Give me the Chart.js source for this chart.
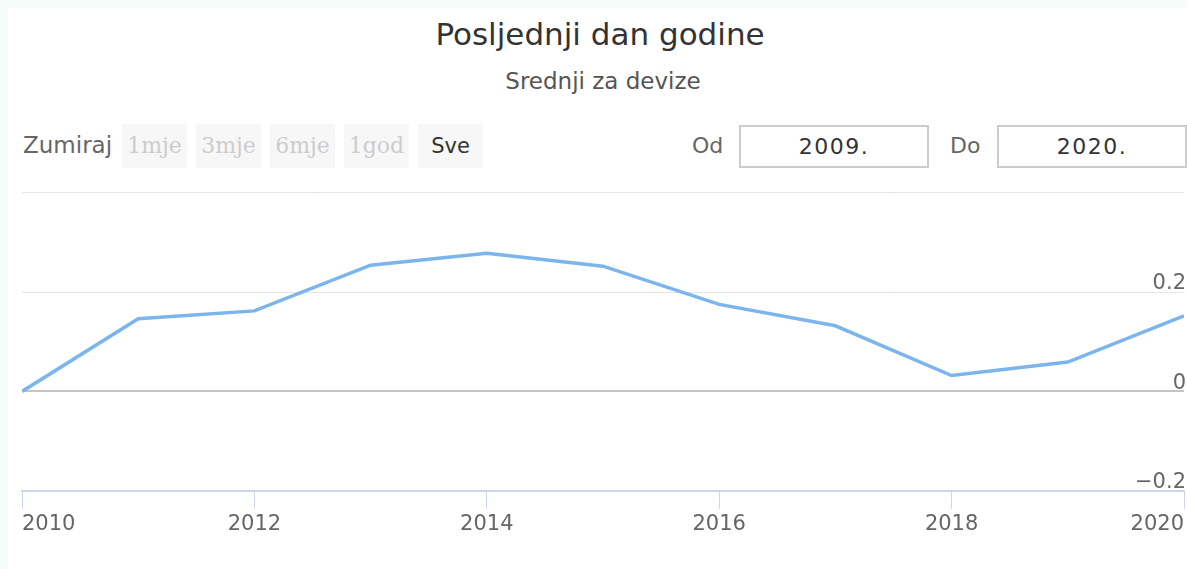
<!DOCTYPE html>
<html>
<head>
<meta charset="utf-8">
<script src="https://cdn.jsdelivr.net/npm/chart.js@4.4.0/dist/chart.umd.min.js"></script>
<style>
  body { margin: 0; background: #f6fcfa; font-family: "DejaVu Sans", sans-serif; }
  #panel { position: absolute; left: 8px; top: 8px; width: 1179px; height: 561px; background: #fff; }
  .abs { position: absolute; white-space: nowrap; }
  #title { left: 0; width: 1200px; top: 16px; text-align: center; font-size: 31px; color: #333; }
  #subtitle { left: 0; width: 1206px; top: 68px; text-align: center; font-size: 23px; color: #555; }
  #zoomLbl { left: 23px; top: 132px; font-size: 23px; color: #666; }
  .btn { top: 124px; height: 44px; width: 65px; background: #f7f7f7; line-height: 44px; text-align: center; }
  .btn.off { color: #ccc; font-family: "DejaVu Serif", serif; font-size: 22px; }
  .btn.on { color: #333; font-size: 21px; }
  .lbl { top: 133px; font-size: 22px; color: #666; }
  .inp { top: 125px; height: 39px; width: 186px; border: 2px solid #ccc; text-align: center; line-height: 39px; font-size: 22px; color: #333; letter-spacing: 1.5px; }
  #chart { position: absolute; left: 0; top: 178px; }
</style>
</head>
<body>
<div id="panel"></div>
<div class="abs" id="title">Posljednji dan godine</div>
<div class="abs" id="subtitle">Srednji za devize</div>
<div class="abs" id="zoomLbl">Zumiraj</div>
<div class="abs btn off" style="left:122px">1mje</div>
<div class="abs btn off" style="left:196px">3mje</div>
<div class="abs btn off" style="left:270px">6mje</div>
<div class="abs btn off" style="left:344px">1god</div>
<div class="abs btn on" style="left:418px">Sve</div>
<div class="abs lbl" style="left:692px">Od</div>
<div class="abs inp" style="left:739px">2009.</div>
<div class="abs lbl" style="left:950px">Do</div>
<div class="abs inp" style="left:997px">2020.</div>
<canvas id="chart" width="1187" height="362"></canvas>
<script>
  // last day of the year, middle rate
  const years = [2010, 2011, 2012, 2013, 2014, 2015, 2016, 2017, 2018, 2019, 2020];
  const values = [0, 0.146, 0.162, 0.254, 0.278, 0.252, 0.175, 0.132, 0.032, 0.059, 0.152];
  const xTickYears = [2010, 2012, 2014, 2016, 2018, 2020];
  const yTicks = [-0.2, 0, 0.2, 0.4];

  const points = years.map((y, i) => ({ x: y, y: values[i] }));

  const fmtY = v => {
    const r = Math.round(v * 10) / 10;
    if (r === 0.4) return '';
    if (r === 0) return '0';
    return r < 0 ? '\u2212' + Math.abs(r) : String(r);
  };

  new Chart(document.getElementById('chart'), {
    type: 'line',
    data: {
      datasets: [{
        data: points,
        borderColor: '#7cb5ec',
        borderWidth: 3.5,
        pointRadius: 0,
        tension: 0,
        fill: false
      }]
    },
    options: {
      responsive: false,
      animation: false,
      layout: { padding: { left: 22, right: 3, top: 3, bottom: 0 } },
      plugins: { legend: { display: false }, tooltip: { enabled: false } },
      scales: {
        x: {
          type: 'linear',
          min: 2010,
          max: 2020,
          afterBuildTicks: axis => { axis.ticks = xTickYears.map(v => ({ value: v })); },
          ticks: {
            align: 'inner',
            padding: 3,
            color: '#666',
            font: { family: 'DejaVu Sans', size: 21 },
            callback: v => String(v)
          },
          grid: { drawOnChartArea: false, drawTicks: true, tickLength: 18, color: '#ccd6eb' },
          border: { color: '#ccd6eb', width: 2 }
        },
        y: {
          position: 'right',
          min: -0.2,
          max: 0.4,
          afterBuildTicks: axis => { axis.ticks = yTicks.map(v => ({ value: v })); },
          afterFit: axis => { axis.width = 0; },
          ticks: {
            mirror: true,
            padding: 2,
            labelOffset: -8,
            color: '#666',
            font: { family: 'DejaVu Sans', size: 21 },
            callback: fmtY
          },
          grid: {
            drawTicks: false,
            color: ctx => {
              const v = Math.round(ctx.tick.value * 10) / 10;
              if (v === 0) return '#c4c4c4';
              if (v === -0.2) return '#ccd6eb';
              return '#e6e6e6';
            },
            lineWidth: ctx => (Math.round(ctx.tick.value * 10) === 0 ? 2 : 1)
          },
          border: { display: false }
        }
      }
    }
  });
</script>
</body>
</html>
